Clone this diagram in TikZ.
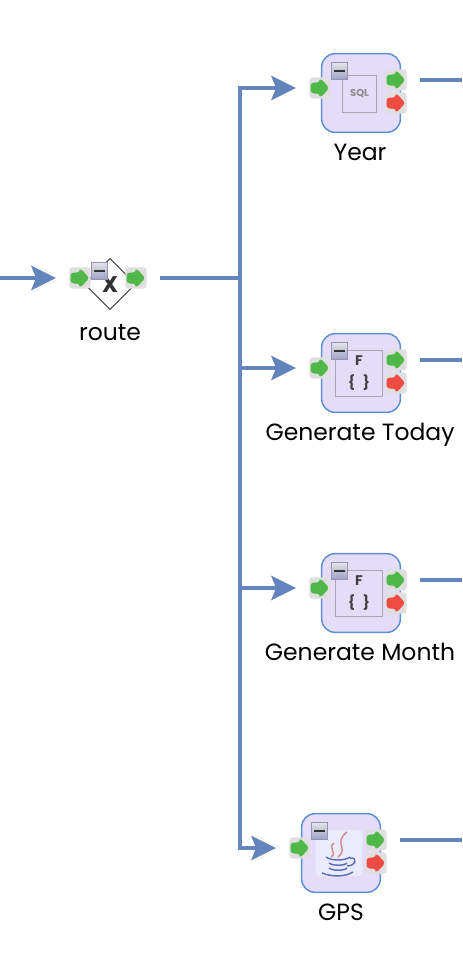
\documentclass[tikz,border=0pt]{standalone}
\usepackage{fontspec}
\setmainfont{Poppins}
\usetikzlibrary{arrows.meta, shapes.geometric}
\definecolor{flowBlue}{HTML}{6484BD}
\definecolor{taskEdge}{HTML}{5B8FD6}
\definecolor{taskFill}{HTML}{E4DCF8}
\definecolor{portGray}{HTML}{DFDFDF}
\definecolor{okGreen}{HTML}{4FB848}
\definecolor{errRed}{HTML}{EE4B42}
\definecolor{iconEdge}{HTML}{A9A6B4}
\definecolor{steamRed}{HTML}{D58A86}
\definecolor{cupBlue}{HTML}{5B6FB5}

\begin{document}
\begin{tikzpicture}[
    x=0.75pt, y=-0.75pt,
    font=\fontsize{17.6pt}{20pt}\selectfont,
    flow/.style={draw=flowBlue, line width=3pt, -{Stealth[length=18.5pt, width=18pt, inset=3.5pt]}},
    plainFlow/.style={draw=flowBlue, line width=3pt},
    task/.style={rectangle, rounded corners=10pt, draw=taskEdge, line width=1.1pt, fill=taskFill,
                minimum width=59pt, minimum height=59pt},
    port/.style={rectangle, rounded corners=2.5pt, fill=portGray, inner sep=0pt,
                minimum width=16pt, minimum height=16pt,
                path picture={
                  \fill[#1, shift={(path picture bounding box.center)}]
                    (-9.5,-5.5) -- (0,-5.5) -- (0,-10) -- (9.5,0) -- (0,10) -- (0,5.5) -- (-9.5,5.5) -- cycle;
                }},
    collapse/.style={rectangle, draw=blue!20!gray!70, line width=0.6pt,
                top color=blue!8!gray!20, bottom color=blue!25!gray!60, inner sep=0pt,
                minimum width=12pt, minimum height=12.5pt,
                path picture={
                  \fill[black!80, shift={(path picture bounding box.center)}]
                    (-5.5,-1.3) rectangle (5.5,1.3);
                }},
    icon/.style={rectangle, draw=iconEdge, line width=0.8pt, inner sep=0pt, align=center,
                font=\fontsize{#1}{16.5pt}\selectfont\bfseries, text=black!75},
    steam/.style={draw=steamRed, line width=1.1pt},
    cup/.style={draw=cupBlue, line width=1.1pt},
    caption/.style={inner sep=0pt, anchor=base}
  ]
  \useasboundingbox (0,0) rectangle (462,960);

  %% ---- Route ----
  \node[diamond, draw=black!70, fill=white, line width=0.8pt, minimum width=38.5pt, minimum height=38.5pt,
        inner sep=0pt] (route) at (110,284) {};
  \node[font=\fontsize{17pt}{17pt}\selectfont\bfseries, text=black!80, inner sep=0pt] (routeMark) at (110,285) {X};
  \node[port=okGreen] (routeIn)  at (80,278)  {};
  \node[port=okGreen] (routeOut) at (136,278) {};
  \node[collapse] (routeBtn) at (99,271) {};
  \node[caption] (routeLabel) at (110,340) {route};

  %% ---- Year ----
  \node[task] (year) at (361,93) {};
  \node[icon=7.5pt, text=black!45, minimum width=25pt, minimum height=28pt] (yearIcon) at (359.5,94) {SQL};
  \node[port=okGreen] (yearIn)  at (320,88)  {};
  \node[port=okGreen] (yearOk)  at (396,80)  {};
  \node[port=errRed]  (yearErr) at (396,103) {};
  \node[collapse] (yearBtn) at (339,71) {};
  \node[caption] (yearLabel) at (360,160) {Year};

  %% ---- Generate Today ----
  \node[task] (today) at (361,373) {};
  \node[icon=10.5pt, minimum width=35pt, minimum height=34.5pt] (todayIcon) at (359,373.5) {F\\\{\;\;\}};
  \node[port=okGreen] (todayIn)  at (320,368) {};
  \node[port=okGreen] (todayOk)  at (396,360) {};
  \node[port=errRed]  (todayErr) at (396,383) {};
  \node[collapse] (todayBtn) at (339,351) {};
  \node[caption] (todayLabel) at (360,440) {Generate Today};

  %% ---- Generate Month ----
  \node[task] (month) at (361,593) {};
  \node[icon=10.5pt, minimum width=35pt, minimum height=34.5pt] (monthIcon) at (359,593.5) {F\\\{\;\;\}};
  \node[port=okGreen] (monthIn)  at (320,588) {};
  \node[port=okGreen] (monthOk)  at (396,580) {};
  \node[port=errRed]  (monthErr) at (396,603) {};
  \node[collapse] (monthBtn) at (339,571) {};
  \node[caption] (monthLabel) at (360,660) {Generate Month};

  %% ---- GPS ----
  \node[task] (gps) at (341,853) {};
  \node[rectangle, rounded corners=3pt, fill=white!92!blue, minimum width=35pt, minimum height=34.5pt] (gpsIcon) at (339,853) {};
  \draw[steam] (347,832) .. controls (333,843) and (349,848) .. (338,857);
  \draw[steam] (334,843) .. controls (327,848) and (338,853) .. (331,857);
  \draw[cup] (326,857) .. controls (331,861) and (345,861) .. (350,857);
  \draw[cup] (329,863) .. controls (333,866) and (344,866) .. (347,863);
  \draw[cup] (329,868) .. controls (333,871) and (344,871) .. (347,868);
  \draw[cup] (322,873) .. controls (332,877) and (345,877) .. (353,872);
  \draw[cup] (350,858) .. controls (358,857) and (356,866) .. (347,866);
  \node[port=okGreen] (gpsIn)  at (300,848) {};
  \node[port=okGreen] (gpsOk)  at (376,840) {};
  \node[port=errRed]  (gpsErr) at (376,863) {};
  \node[collapse] (gpsBtn) at (319,831) {};
  \node[caption] (gpsLabel) at (341,920) {GPS};

  %% ---- Free ends ----
  \coordinate (entry)     at (0,278);
  \coordinate (fork)      at (240,278);
  \coordinate (yearEnd)   at (462,80);
  \coordinate (todayEnd)  at (462,360);
  \coordinate (monthEnd)  at (462,580);
  \coordinate (gpsEnd)    at (462,840);

  %% ---- Connectors ----
  \draw[flow, shorten >=9.75pt] (entry) -- (routeIn.west);
  \draw[plainFlow, shorten <=9.75pt] (routeOut.east) -- (fork);
  \draw[flow, shorten >=9.75pt] (fork) |- (yearIn.west);
  \draw[flow, shorten >=9.75pt] (fork) |- (todayIn.west);
  \draw[flow, shorten >=9.75pt] (fork) |- (monthIn.west);
  \draw[flow, shorten >=9.75pt] (fork) |- (gpsIn.west);
  \draw[plainFlow, shorten <=9.75pt] (yearOk.east)  -- (yearEnd);
  \draw[plainFlow, shorten <=9.75pt] (todayOk.east) -- (todayEnd);
  \draw[plainFlow, shorten <=9.75pt] (monthOk.east) -- (monthEnd);
  \draw[plainFlow, shorten <=9.75pt] (gpsOk.east)   -- (gpsEnd);
\end{tikzpicture}
\end{document}
